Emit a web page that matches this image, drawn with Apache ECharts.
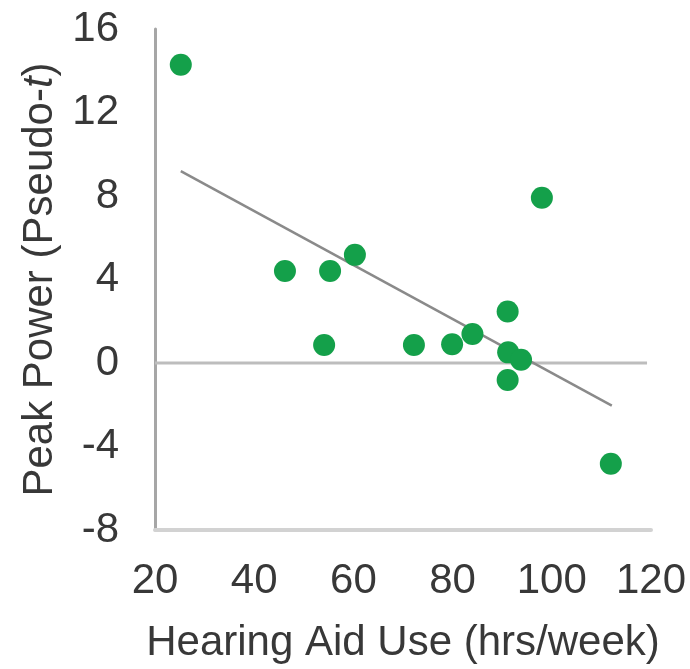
<!DOCTYPE html>
<html>
<head>
<meta charset="utf-8">
<script src="https://cdn.jsdelivr.net/npm/echarts@6/dist/echarts.min.js"></script>
<style>html,body{margin:0;padding:0;background:#fff}#c{width:690px;height:669px}</style>
</head>
<body>
<div id="c"></div>
<script>
const hoursUse = [25.2, 46.2, 55.3, 60.3, 54.1, 72.2, 79.9, 84.0, 91.1, 98.0, 91.2, 93.8, 91.1, 111.9];
const peakPower = [14.29, 4.41, 4.41, 5.18, 0.86, 0.86, 0.90, 1.39, 2.47, 7.92, 0.51, 0.16, -0.81, -4.83];
const trendX = [25.2, 112.1];
const trendY = [9.19, -2.04];
const zeroX = [20, 119.2];
const zeroY = [0, 0];
const xTicks = [20, 40, 60, 80, 100, 120];
const yTicks = [-8, -4, 0, 4, 8, 12, 16];

const font = 'Liberation Sans, Arial, sans-serif';
const txt = '#383838';
const chart = echarts.init(document.getElementById('c'));
chart.setOption({
  animation: false,
  grid: {left: 155, right: 39, top: 29, bottom: 138},
  xAxis: {
    type: 'value', min: xTicks[0], max: xTicks[xTicks.length - 1], interval: 20,
    name: 'Hearing Aid Use (hrs/week)', nameLocation: 'middle', nameGap: 92,
    nameTextStyle: {fontFamily: font, fontSize: 42, color: txt},
    axisLine: {show: true, onZero: false, lineStyle: {color: '#d2d2d2', width: 4}},
    axisTick: {show: false}, splitLine: {show: false},
    axisLabel: {fontFamily: font, fontSize: 42, color: txt, margin: 30}
  },
  yAxis: {
    type: 'value', min: yTicks[0], max: yTicks[yTicks.length - 1], interval: 4,
    name: 'Peak Power (Pseudo-{i|t})', nameLocation: 'middle', nameGap: 94,
    nameTextStyle: {fontFamily: font, fontSize: 42, color: txt,
      rich: {i: {fontFamily: font, fontSize: 42, fontStyle: 'italic', color: txt}}},
    axisLine: {show: true, onZero: false, lineStyle: {color: '#a6a6a6', width: 3}},
    axisTick: {show: false}, splitLine: {show: false},
    axisLabel: {fontFamily: font, fontSize: 42, color: txt, margin: 36}
  },
  series: [
    {type: 'line', data: zeroX.map((x, i) => [x, zeroY[i]]), symbol: 'none',
     lineStyle: {color: '#bdbdbd', width: 3}, z: 1},
    {type: 'line', data: trendX.map((x, i) => [x, trendY[i]]), symbol: 'none',
     lineStyle: {color: '#8a8a8a', width: 2.5}, z: 2},
    {type: 'scatter', data: hoursUse.map((x, i) => [x, peakPower[i]]), symbolSize: 22,
     itemStyle: {color: '#14a04a', opacity: 1}, z: 3}
  ]
});
</script>
</body>
</html>
